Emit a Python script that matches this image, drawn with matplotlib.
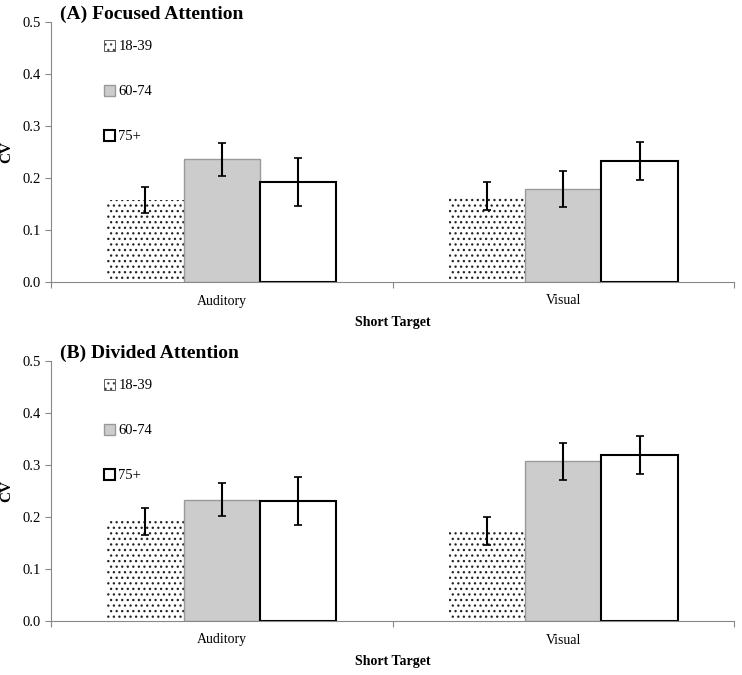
import numpy as np
import matplotlib.pyplot as plt
from matplotlib.patches import Patch

plt.rcParams['font.family'] = ['Liberation Serif', 'DejaVu Serif']
plt.rcParams['hatch.linewidth'] = 0.9

categories = ["Auditory", "Visual"]
groups = ["18-39", "60-74", "75+"]

focused_means = {"18-39": [0.157, 0.166], "60-74": [0.236, 0.179], "75+": [0.192, 0.233]}
focused_err = {"18-39": [0.025, 0.027], "60-74": [0.032, 0.035], "75+": [0.046, 0.036]}

divided_means = {"18-39": [0.192, 0.173], "60-74": [0.233, 0.307], "75+": [0.231, 0.319]}
divided_err = {"18-39": [0.026, 0.027], "60-74": [0.032, 0.036], "75+": [0.046, 0.037]}

styles = {
    "18-39": dict(facecolor="white", edgecolor="#222222", hatch="...", linewidth=0),
    "60-74": dict(facecolor="#cccccc", edgecolor="#999999", linewidth=1.0),
    "75+": dict(facecolor="white", edgecolor="black", linewidth=1.5),
}


def draw_panel(ax, means, errs, title):
    x = np.arange(len(categories))
    w = 0.67 / 3
    for i, g in enumerate(groups):
        ax.bar(x + (i - 1) * w, means[g], w, yerr=errs[g], capsize=3,
               error_kw=dict(ecolor="black", elinewidth=1.5, capthick=1.2),
               zorder=2, **styles[g])
    ax.set_xlim(-0.5, 1.5)
    ax.set_ylim(0, 0.5)
    ax.set_yticks(np.arange(0, 0.51, 0.1))
    ax.set_yticklabels(["%.1f" % v for v in np.arange(0, 0.51, 0.1)])
    ax.set_xticks([-0.5, 0.5, 1.5])
    ax.set_xticklabels([])
    ax.set_xticks(x, minor=True)
    ax.set_xticklabels(categories, minor=True)
    ax.tick_params(axis="x", which="minor", length=0, pad=9, labelsize=10)
    ax.tick_params(axis="x", which="major", length=4, color="#888888")
    ax.tick_params(axis="y", length=4, color="#888888", labelsize=10.5)
    for s in ["top", "right"]:
        ax.spines[s].set_visible(False)
    for s in ["left", "bottom"]:
        ax.spines[s].set_color("#888888")
    ax.set_xlabel("Short Target", fontweight="bold", fontsize=10, labelpad=6)
    ax.set_ylabel("CV", fontweight="bold", fontsize=11)
    ax.yaxis.set_label_coords(-0.055, 0.5)
    ax.text(0.013, 1.028, title, transform=ax.transAxes, fontweight="bold",
            fontsize=14, ha="left", va="center")
    handles = [Patch(label=g, **styles[g]) for g in groups]
    handles[0].set_linewidth(0.6)
    handles[0].set_edgecolor("#444444")
    ax.legend(handles=handles, loc="upper left", bbox_to_anchor=(0.058, 0.982),
              frameon=False, handlelength=0.8, handleheight=0.8,
              handletextpad=0.2, labelspacing=2.15, fontsize=10.5)


fig = plt.figure(figsize=(7.42, 6.75), dpi=100)
ax1 = fig.add_axes([51 / 742, 1 - 282 / 675, 683 / 742, 260 / 675])
ax2 = fig.add_axes([51 / 742, 1 - 621 / 675, 683 / 742, 260 / 675])
draw_panel(ax1, focused_means, focused_err, "(A) Focused Attention")
draw_panel(ax2, divided_means, divided_err, "(B) Divided Attention")

fig.savefig("out.png", dpi=100)
